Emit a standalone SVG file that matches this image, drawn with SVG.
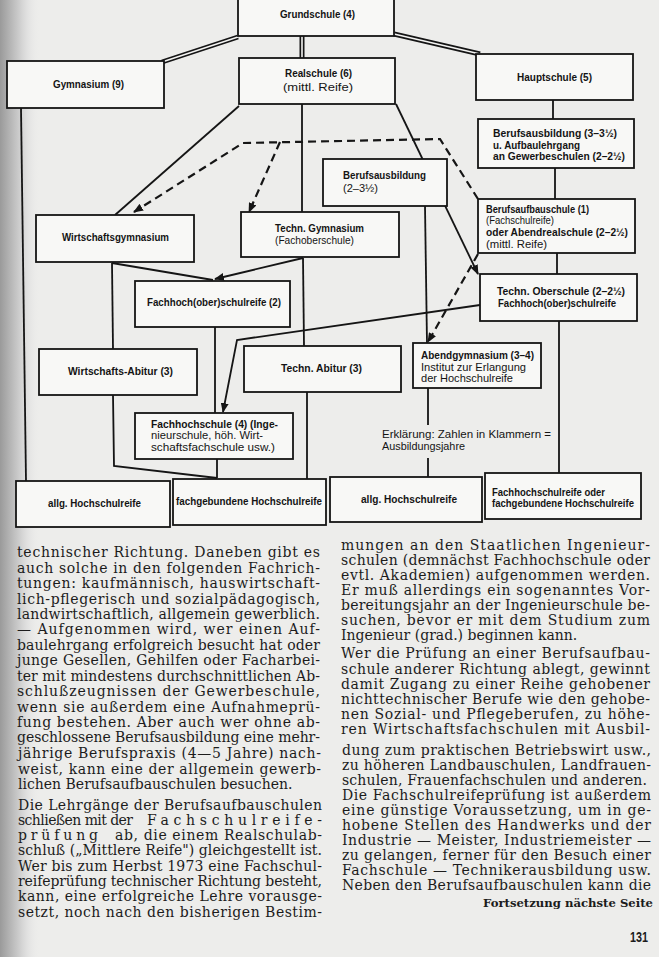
<svg xmlns="http://www.w3.org/2000/svg" width="659" height="957" viewBox="0 0 659 957">
<defs>
<linearGradient id="shade" x1="0" y1="0" x2="1" y2="0">
<stop offset="0" stop-color="#9a9a9a"/>
<stop offset="0.5" stop-color="#cfcfcf"/>
<stop offset="1" stop-color="#ececec" stop-opacity="0"/>
</linearGradient>
<marker id="ah" markerUnits="userSpaceOnUse" markerWidth="10" markerHeight="8" refX="9" refY="4" orient="auto">
<path d="M0,0 L10,4 L0,8 Z" fill="#151515"/>
</marker>
<style>
.bx{fill:#f8f8f6;stroke:#151515;stroke-width:1.8}
.lb{font-family:"Liberation Sans",Arial,sans-serif;font-size:11.5px;font-weight:bold;fill:#141414}
.sm{font-size:11px}
.r{font-weight:normal}
.ln{fill:none;stroke:#151515;stroke-width:1.8}
.ds{fill:none;stroke:#151515;stroke-width:2.2;stroke-dasharray:8 5}
.dbo{fill:none;stroke:#151515;stroke-width:5}
.dbi{fill:none;stroke:#f4f4f2;stroke-width:1.6}
.bt{font-family:"DejaVu Serif",serif;font-size:14px;fill:#1c1c1c}
</style>
</defs>
<rect x="0" y="0" width="659" height="957" fill="#ededeb"/>
<rect x="0" y="0" width="40" height="957" fill="url(#shade)"/>

<g id="connectors">
<path class="dbo" d="M238,37 L162,62"/><path class="dbi" d="M238,37 L162,62"/>
<path class="dbo" d="M302,36 L302,58"/><path class="dbi" d="M302,36 L302,58"/>
<path class="dbo" d="M394,34 L480,54"/><path class="dbi" d="M394,34 L480,54"/>
<path class="ln" d="M21,108 L26,481"/>
<path class="ln" d="M239,106 L115,215"/>
<path class="ln" d="M302,104 L302,212"/>
<path class="ln" d="M396,104 L478,274" marker-end="url(#ah)"/>
<path class="ln" d="M553,100 L553,119"/>
<path class="ln" d="M555,168 L555,199"/>
<path class="ln" d="M557,253 L557,274"/>
<path class="ln" d="M559,321 L559,473"/>
<path class="ln" d="M480,305 L237,340 L223,412" marker-end="url(#ah)"/>
<path class="ln" d="M425,206 L427,343"/>
<path class="ln" d="M428,388 L428,425"/>
<path class="ln" d="M428,458 L428,477"/>
<path class="ln" d="M112,263 L213,280"/>
<path class="ln" d="M303,258 L215,279" marker-end="url(#ah)"/>
<path class="ln" d="M112,263 L113,349"/>
<path class="ln" d="M303,258 L304,346"/>
<path class="ln" d="M215,327 L215,413"/>
<path class="ln" d="M113,395 L114,466 L217,478"/>
<path class="ln" d="M217,459 L217,478"/>
<path class="ln" d="M307,392 L307,479"/>
<path class="ds" d="M478,199 L440,139 L243,143 L134,212" marker-end="url(#ah)"/>
<path class="ds" d="M280,142 L249,212" marker-end="url(#ah)"/>
<path class="ds" d="M478,254 L428,342" marker-end="url(#ah)"/>
</g>

<g id="grundschule"><rect class="bx" x="238" y="-5" width="156" height="41"/>
<text class="lb" x="280" y="18" textLength="75" lengthAdjust="spacingAndGlyphs">Grundschule (4)</text></g>

<g id="gymnasium"><rect class="bx" x="7" y="61" width="157" height="47"/>
<text class="lb" x="53" y="88" textLength="71" lengthAdjust="spacingAndGlyphs">Gymnasium (9)</text></g>

<g id="realschule"><rect class="bx" x="239" y="58" width="156" height="46"/>
<text class="lb" x="285" y="77" textLength="67" lengthAdjust="spacingAndGlyphs">Realschule (6)</text>
<text class="lb r" x="283" y="91" textLength="70" lengthAdjust="spacingAndGlyphs">(mittl. Reife)</text></g>

<g id="hauptschule"><rect class="bx" x="476" y="54" width="157" height="46"/>
<text class="lb" x="517" y="81" textLength="75" lengthAdjust="spacingAndGlyphs">Hauptschule (5)</text></g>

<g id="berufsausbildung-lang"><rect class="bx" x="478" y="119" width="156" height="49"/>
<text class="lb sm" x="493" y="137" textLength="124" lengthAdjust="spacingAndGlyphs">Berufsausbildung (3–3½)</text>
<text class="lb sm" x="493" y="149" textLength="87" lengthAdjust="spacingAndGlyphs">u. Aufbaulehrgang</text>
<text class="lb sm" x="493" y="160" textLength="132" lengthAdjust="spacingAndGlyphs">an Gewerbeschulen (2–2½)</text></g>

<g id="berufsaufbauschule"><rect class="bx" x="478" y="199" width="157" height="54"/>
<text class="lb sm" x="486" y="213" textLength="103" lengthAdjust="spacingAndGlyphs">Berufsaufbauschule (1)</text>
<text class="lb sm r" x="486" y="224" textLength="68" lengthAdjust="spacingAndGlyphs">(Fachschulreife)</text>
<text class="lb sm" x="486" y="236" textLength="142" lengthAdjust="spacingAndGlyphs">oder Abendrealschule (2–2½)</text>
<text class="lb sm r" x="486" y="248" textLength="61" lengthAdjust="spacingAndGlyphs">(mittl. Reife)</text></g>

<g id="berufsausbildung-kurz"><rect class="bx" x="323" y="159" width="124" height="47"/>
<text class="lb sm" x="343" y="179" textLength="83" lengthAdjust="spacingAndGlyphs">Berufsausbildung</text>
<text class="lb sm r" x="343" y="192" textLength="35" lengthAdjust="spacingAndGlyphs">(2–3½)</text></g>

<g id="techn-gymnasium"><rect class="bx" x="241" y="212" width="158" height="45"/>
<text class="lb sm" x="275" y="232" textLength="89" lengthAdjust="spacingAndGlyphs">Techn. Gymnasium</text>
<text class="lb sm r" x="275" y="244" textLength="79" lengthAdjust="spacingAndGlyphs">(Fachoberschule)</text></g>

<g id="wirtschaftsgymnasium"><rect class="bx" x="36" y="215" width="158" height="47"/>
<text class="lb sm" x="62" y="241" textLength="107" lengthAdjust="spacingAndGlyphs">Wirtschaftsgymnasium</text></g>

<g id="techn-oberschule"><rect class="bx" x="480" y="274" width="157" height="47"/>
<text class="lb sm" x="497" y="295" textLength="128" lengthAdjust="spacingAndGlyphs">Techn. Oberschule (2–2½)</text>
<text class="lb sm" x="498" y="307" textLength="118" lengthAdjust="spacingAndGlyphs">Fachhoch(ober)schulreife</text></g>

<g id="fachhochoberschulreife"><rect class="bx" x="135" y="281" width="155" height="46"/>
<text class="lb sm" x="147" y="306" textLength="134" lengthAdjust="spacingAndGlyphs">Fachhoch(ober)schulreife (2)</text></g>

<g id="wirtschafts-abitur"><rect class="bx" x="39" y="349" width="158" height="46"/>
<text class="lb sm" x="68" y="375" textLength="105" lengthAdjust="spacingAndGlyphs">Wirtschafts-Abitur (3)</text></g>

<g id="techn-abitur"><rect class="bx" x="244" y="346" width="157" height="46"/>
<text class="lb sm" x="281" y="372" textLength="81" lengthAdjust="spacingAndGlyphs">Techn. Abitur (3)</text></g>

<g id="abendgymnasium"><rect class="bx" x="413" y="343" width="128" height="45"/>
<text class="lb sm" x="421" y="359" textLength="113" lengthAdjust="spacingAndGlyphs">Abendgymnasium (3–4)</text>
<text class="lb sm r" x="421" y="371" textLength="105" lengthAdjust="spacingAndGlyphs">Institut zur Erlangung</text>
<text class="lb sm r" x="421" y="382" textLength="92" lengthAdjust="spacingAndGlyphs">der Hochschulreife</text></g>

<g id="fachhochschule"><rect class="bx" x="135" y="413" width="158" height="46"/>
<text class="lb sm" x="151" y="428" textLength="127" lengthAdjust="spacingAndGlyphs">Fachhochschule (4) (Inge-</text>
<text class="lb sm r" x="151" y="439" textLength="112" lengthAdjust="spacingAndGlyphs">nieurschule, höh. Wirt-</text>
<text class="lb sm r" x="151" y="451" textLength="124" lengthAdjust="spacingAndGlyphs">schaftsfachschule usw.)</text></g>

<g id="erklaerung">
<text class="lb sm r" x="382" y="438" textLength="169" lengthAdjust="spacingAndGlyphs">Erklärung: Zahlen in Klammern =</text>
<text class="lb sm r" x="382" y="450" textLength="83" lengthAdjust="spacingAndGlyphs">Ausbildungsjahre</text></g>

<g id="allg-hochschulreife-1"><rect class="bx" x="16" y="481" width="154" height="46"/>
<text class="lb sm" x="48" y="507" textLength="93" lengthAdjust="spacingAndGlyphs">allg. Hochschulreife</text></g>

<g id="fachgebundene-hochschulreife"><rect class="bx" x="173" y="479" width="153" height="46"/>
<text class="lb sm" x="176" y="505" textLength="146" lengthAdjust="spacingAndGlyphs">fachgebundene Hochschulreife</text></g>

<g id="allg-hochschulreife-2"><rect class="bx" x="330" y="477" width="152" height="45"/>
<text class="lb sm" x="361" y="503" textLength="96" lengthAdjust="spacingAndGlyphs">allg. Hochschulreife</text></g>

<g id="fachhochschulreife-oder"><rect class="bx" x="485" y="473" width="156" height="46"/>
<text class="lb sm" x="492" y="496" textLength="113" lengthAdjust="spacingAndGlyphs">Fachhochschulreife oder</text>
<text class="lb sm" x="492" y="507" textLength="142" lengthAdjust="spacingAndGlyphs">fachgebundene Hochschulreife</text></g>

<g id="text-left" class="bt">
<text x="17" y="557" textLength="303" lengthAdjust="spacing">technischer Richtung. Daneben gibt es</text>
<text x="17" y="573" textLength="303" lengthAdjust="spacing">auch solche in den folgenden Fachrich-</text>
<text x="17" y="588" textLength="303" lengthAdjust="spacing">tungen: kaufmännisch, hauswirtschaft-</text>
<text x="17" y="604" textLength="303" lengthAdjust="spacing">lich-pflegerisch und sozialpädagogisch,</text>
<text x="17" y="619" textLength="303" lengthAdjust="spacing">landwirtschaftlich, allgemein gewerblich.</text>
<text x="17" y="634" textLength="303" lengthAdjust="spacing">— Aufgenommen wird, wer einen Auf-</text>
<text x="17" y="650" textLength="303" lengthAdjust="spacing">baulehrgang erfolgreich besucht hat oder</text>
<text x="17" y="665" textLength="303" lengthAdjust="spacing">junge Gesellen, Gehilfen oder Facharbei-</text>
<text x="17" y="681" textLength="303" lengthAdjust="spacing">ter mit mindestens durchschnittlichen Ab-</text>
<text x="17" y="696" textLength="303" lengthAdjust="spacing">schlußzeugnissen der Gewerbeschule,</text>
<text x="17" y="712" textLength="303" lengthAdjust="spacing">wenn sie außerdem eine Aufnahmeprü-</text>
<text x="17" y="727" textLength="303" lengthAdjust="spacing">fung bestehen. Aber auch wer ohne ab-</text>
<text x="17" y="742" textLength="303" lengthAdjust="spacing">geschlossene Berufsausbildung eine mehr-</text>
<text x="18" y="758" textLength="303" lengthAdjust="spacing">jährige Berufspraxis (4—5 Jahre) nach-</text>
<text x="18" y="774" textLength="303" lengthAdjust="spacing">weist, kann eine der allgemein gewerb-</text>
<text x="18" y="789">lichen Berufsaufbauschulen besuchen.</text>
<text x="18" y="810" textLength="304" lengthAdjust="spacing">Die Lehrgänge der Berufsaufbauschulen</text>
<text x="18" y="825" textLength="115" lengthAdjust="spacing">schließen mit der</text>
<text x="147" y="825" textLength="175" lengthAdjust="spacing">Fachschulreife-</text>
<text x="18" y="840" textLength="80" lengthAdjust="spacing">prüfung</text>
<text x="115" y="840" textLength="207" lengthAdjust="spacing">ab, die einem Realschulab-</text>
<text x="18" y="855" textLength="304" lengthAdjust="spacing">schluß („Mittlere Reife") gleichgestellt ist.</text>
<text x="18" y="871" textLength="304" lengthAdjust="spacing">Wer bis zum Herbst 1973 eine Fachschul-</text>
<text x="18" y="886" textLength="304" lengthAdjust="spacing">reifeprüfung technischer Richtung besteht,</text>
<text x="18" y="901" textLength="304" lengthAdjust="spacing">kann, eine erfolgreiche Lehre vorausge-</text>
<text x="18" y="917" textLength="304" lengthAdjust="spacing">setzt, noch nach den bisherigen Bestim-</text>
</g>

<g id="text-right" class="bt">
<text x="341" y="550" textLength="309" lengthAdjust="spacing">mungen an den Staatlichen Ingenieur-</text>
<text x="341" y="565" textLength="309" lengthAdjust="spacing">schulen (demnächst Fachhochschule oder</text>
<text x="341" y="580" textLength="309" lengthAdjust="spacing">evtl. Akademien) aufgenommen werden.</text>
<text x="341" y="595" textLength="309" lengthAdjust="spacing">Er muß allerdings ein sogenanntes Vor-</text>
<text x="341" y="610" textLength="309" lengthAdjust="spacing">bereitungsjahr an der Ingenieurschule be-</text>
<text x="341" y="625" textLength="309" lengthAdjust="spacing">suchen, bevor er mit dem Studium zum</text>
<text x="341" y="640">Ingenieur (grad.) beginnen kann.</text>
<text x="341" y="658" textLength="309" lengthAdjust="spacing">Wer die Prüfung an einer Berufsaufbau-</text>
<text x="341" y="674" textLength="309" lengthAdjust="spacing">schule anderer Richtung ablegt, gewinnt</text>
<text x="341" y="689" textLength="309" lengthAdjust="spacing">damit Zugang zu einer Reihe gehobener</text>
<text x="341" y="704" textLength="309" lengthAdjust="spacing">nichttechnischer Berufe wie den gehobe-</text>
<text x="341" y="719" textLength="309" lengthAdjust="spacing">nen Sozial- und Pflegeberufen, zu höhe-</text>
<text x="341" y="734" textLength="309" lengthAdjust="spacing">ren Wirtschaftsfachschulen mit Ausbil-</text>
<text x="342" y="755" textLength="309" lengthAdjust="spacing">dung zum praktischen Betriebswirt usw.,</text>
<text x="342" y="770" textLength="309" lengthAdjust="spacing">zu höheren Landbauschulen, Landfrauen-</text>
<text x="342" y="785" textLength="305" lengthAdjust="spacing">schulen, Frauenfachschulen und anderen.</text>
<text x="342" y="800" textLength="309" lengthAdjust="spacing">Die Fachschulreifeprüfung ist außerdem</text>
<text x="342" y="815" textLength="309" lengthAdjust="spacing">eine günstige Voraussetzung, um in ge-</text>
<text x="342" y="830" textLength="309" lengthAdjust="spacing">hobene Stellen des Handwerks und der</text>
<text x="342" y="845" textLength="309" lengthAdjust="spacing">Industrie — Meister, Industriemeister —</text>
<text x="342" y="860" textLength="309" lengthAdjust="spacing">zu gelangen, ferner für den Besuch einer</text>
<text x="342" y="875" textLength="309" lengthAdjust="spacing">Fachschule — Technikerausbildung usw.</text>
<text x="342" y="890" textLength="309" lengthAdjust="spacing">Neben den Berufsaufbauschulen kann die</text>
<text x="483" y="907" font-size="11" font-weight="bold" textLength="170" lengthAdjust="spacingAndGlyphs">Fortsetzung nächste Seite</text>
</g>
<text x="630" y="942" font-family="Liberation Sans, Arial, sans-serif" font-size="14" font-weight="bold" fill="#1c1c1c" textLength="18" lengthAdjust="spacingAndGlyphs">131</text>
</svg>
